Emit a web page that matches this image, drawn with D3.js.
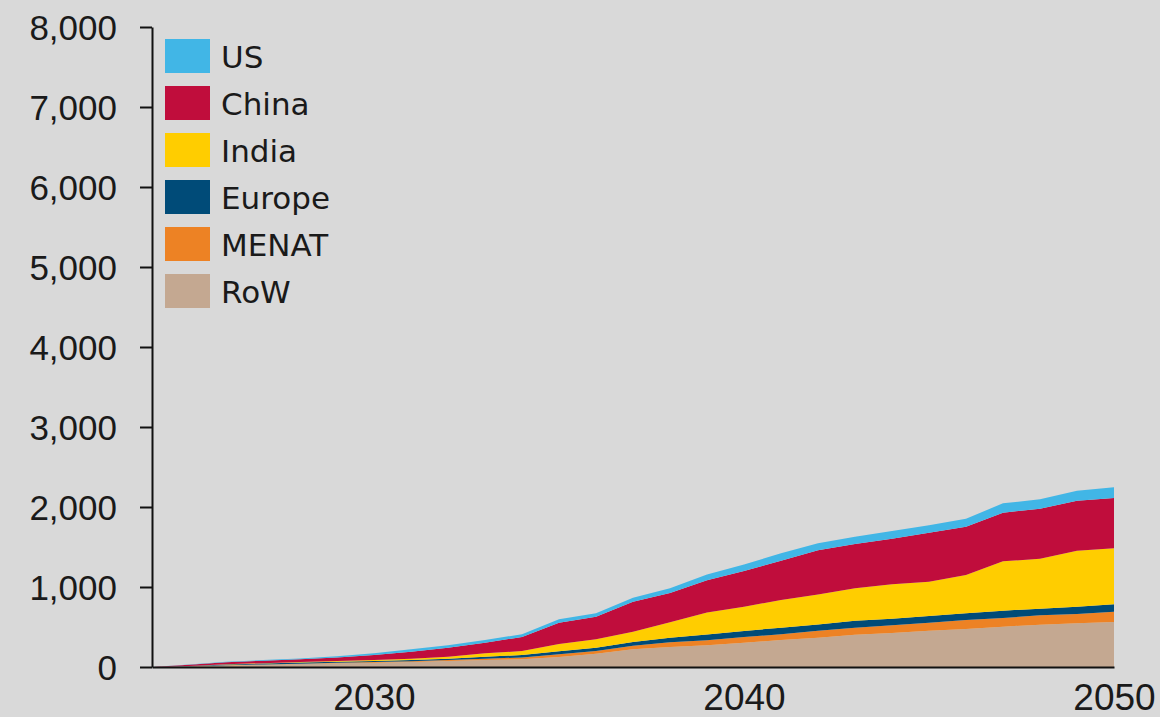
<!DOCTYPE html>
<html>
<head>
<meta charset="utf-8">
<script src="https://cdn.jsdelivr.net/npm/d3@7/dist/d3.min.js"></script>
<style>
  html, body { margin: 0; padding: 0; background: #d9d9d9; }
  svg { display: block; font-family: "DejaVu Sans", sans-serif; }
</style>
</head>
<body>
<svg id="chart" width="1160" height="717"></svg>
<script>
// Annual values by region, 2024-2050
const years = d3.range(2024, 2051);
const regions = ["RoW", "MENAT", "Europe", "India", "China", "US"];
const RoW    = [0, 8, 20, 28, 37, 46, 54, 62, 75, 87, 96, 125, 167, 221, 250, 273, 304, 337, 366, 404, 425, 454, 475, 504, 529, 546, 562];
const MENAT  = [0, 1, 3, 4, 5, 6, 8, 9, 12, 17, 23, 33, 33, 46, 58, 62, 71, 71, 86, 88, 98, 100, 112, 108, 117, 116, 130];
const Europe = [0, 3, 9, 12, 14, 15, 13, 16, 17, 25, 31, 38, 42, 46, 57, 70, 75, 84, 80, 87, 80, 84, 84, 92, 83, 92, 91];
const India  = [0, 1, 3, 4, 6, 8, 12, 17, 25, 42, 50, 91, 104, 129, 193, 275, 304, 345, 375, 404, 430, 429, 479, 617, 625, 700, 700];
const China  = [0, 15, 25, 30, 35, 45, 63, 88, 113, 133, 175, 267, 283, 375, 367, 405, 445, 492, 552, 554, 570, 612, 604, 608, 625, 625, 629];
const US     = [0, 2, 6, 8, 10, 15, 21, 29, 29, 33, 35, 42, 42, 50, 60, 70, 83, 92, 87, 92, 96, 92, 100, 117, 117, 125, 134];
const seriesValues = { RoW, MENAT, Europe, India, China, US };
const colors = { US: "#41b6e6", China: "#c00d3c", India: "#ffcd00", Europe: "#004b78", MENAT: "#ed8224", RoW: "#c4a891" };
const legendOrder = ["US", "China", "India", "Europe", "MENAT", "RoW"];
const yTicks = [0, 1000, 2000, 3000, 4000, 5000, 6000, 7000, 8000];
const xTicks = [2030, 2040, 2050];

const table = years.map((yr, i) => {
  const row = { year: yr };
  regions.forEach(r => { row[r] = seriesValues[r][i]; });
  return row;
});

const svg = d3.select("#chart");
const x = d3.scaleLinear().domain([2024, 2050]).range([152, 1114]);
const y = d3.scaleLinear().domain([0, 8000]).range([667, 27]);

const stacked = d3.stack().keys(regions)(table);
const area = d3.area()
  .x(d => x(d.data.year))
  .y0(d => y(d[0]))
  .y1(d => y(d[1]));

svg.append("g").selectAll("path")
  .data(stacked)
  .join("path")
  .attr("fill", d => colors[d.key])
  .attr("d", area);

// Y axis
const yAxis = svg.append("g")
  .attr("transform", "translate(152,0)")
  .call(d3.axisLeft(y).tickValues(yTicks).tickFormat(d3.format(",")).tickSize(12).tickSizeOuter(0).tickPadding(23));
yAxis.select(".domain").attr("stroke", "#111").attr("stroke-width", 2);
yAxis.selectAll(".tick line").attr("stroke", "#111").attr("stroke-width", 2);
yAxis.selectAll(".tick text").attr("font-size", 35).attr("fill", "#1a1a1a").attr("dy", "0.36em");

// X axis
const xAxis = svg.append("g")
  .attr("transform", "translate(0,667)")
  .call(d3.axisBottom(x).tickValues(xTicks).tickFormat(d3.format("d")).tickSize(0).tickSizeOuter(0).tickPadding(17));
xAxis.select(".domain").attr("stroke", "#111").attr("stroke-width", 2);
xAxis.selectAll(".tick text").attr("font-size", 37).attr("fill", "#1a1a1a");

// Legend
const legend = svg.append("g").attr("transform", "translate(165,39)");
const item = legend.selectAll("g")
  .data(legendOrder)
  .join("g")
  .attr("transform", (d, i) => `translate(0,${i * 47})`);
item.append("rect")
  .attr("width", 45).attr("height", 34)
  .attr("fill", d => colors[d]);
item.append("text")
  .attr("x", 56).attr("y", 29)
  .attr("font-size", 31)
  .attr("fill", "#1a1a1a")
  .text(d => d);
</script>
</body>
</html>
